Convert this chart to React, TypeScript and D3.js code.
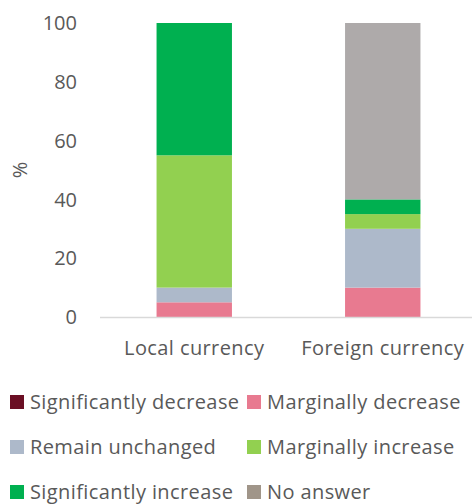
import React, { useEffect, useRef } from "react";
import * as d3 from "d3";

const categories = ["Local currency", "Foreign currency"];
const seriesNames = [
  "Significantly decrease",
  "Marginally decrease",
  "Remain unchanged",
  "Marginally increase",
  "Significantly increase",
  "No answer",
];
const significantlyDecrease = [0, 0];
const marginallyDecrease = [5, 10];
const remainUnchanged = [5, 20];
const marginallyIncrease = [45, 5];
const significantlyIncrease = [45, 5];
const noAnswer = [0, 60];
const yTicks = [0, 20, 40, 60, 80, 100];

const barColors = ["#6B0F24", "#E87A90", "#ADB9CA", "#92D050", "#00B050", "#AEAAAA"];
const legendColors = ["#6B0F24", "#E87A90", "#ADB9CA", "#92D050", "#00B050", "#A09589"];

const FONT = "'Open Sans', 'Noto Sans', sans-serif";
const TEXT = "#595959";

export default function App() {
  const ref = useRef<SVGSVGElement>(null);

  useEffect(() => {
    if (!ref.current) return;
    const width = 472;
    const height = 504;
    const svg = d3.select(ref.current).attr("width", width).attr("height", height);
    svg.selectAll("*").remove();

    const values = [
      significantlyDecrease,
      marginallyDecrease,
      remainUnchanged,
      marginallyIncrease,
      significantlyIncrease,
      noAnswer,
    ];
    const rows = categories.map((c, i) => {
      const r: any = { category: c };
      seriesNames.forEach((s, j) => (r[s] = values[j][i]));
      return r;
    });

    // plot area runs a little past the right edge of the picture
    const margin = { left: 100, right: -5, top: 23, bottom: 187 };
    const x = d3
      .scaleBand()
      .domain(categories)
      .range([margin.left, width - margin.right])
      .paddingInner(0.6)
      .paddingOuter(0.3);
    const y = d3.scaleLinear().domain([0, 100]).range([height - margin.bottom, margin.top]);

    const stack = d3.stack<any>().keys(seriesNames)(rows);

    svg
      .append("g")
      .selectAll("g")
      .data(stack)
      .join("g")
      .attr("fill", (_, i) => barColors[i])
      .selectAll("rect")
      .data((d) => d)
      .join("rect")
      .attr("x", (d) => x(d.data.category)!)
      .attr("width", x.bandwidth())
      .attr("y", (d) => y(d[1]))
      .attr("height", (d) => y(d[0]) - y(d[1]));

    // axis baseline
    svg
      .append("line")
      .attr("x1", margin.left)
      .attr("x2", width)
      .attr("y1", y(0) + 0.5)
      .attr("y2", y(0) + 0.5)
      .attr("stroke", "#D9D9D9")
      .attr("stroke-width", 1.5);

    // y tick labels
    svg
      .append("g")
      .selectAll("text")
      .data(yTicks)
      .join("text")
      .attr("x", 77)
      .attr("y", (d) => y(d))
      .attr("dy", "0.36em")
      .attr("text-anchor", "end")
      .attr("font-family", FONT)
      .attr("font-size", 20)
      .attr("fill", TEXT)
      .text((d) => d);

    svg
      .append("text")
      .attr("transform", `translate(27,${y(50)}) rotate(-90)`)
      .attr("text-anchor", "middle")
      .attr("font-family", FONT)
      .attr("font-size", 20)
      .attr("fill", TEXT)
      .text("%");

    // category labels
    svg
      .append("g")
      .selectAll("text")
      .data(categories)
      .join("text")
      .attr("x", (d) => x(d)! + x.bandwidth() / 2)
      .attr("y", 355)
      .attr("text-anchor", "middle")
      .attr("font-family", FONT)
      .attr("font-size", 20)
      .attr("letter-spacing", 0.4)
      .attr("fill", TEXT)
      .text((d) => d);

    // legend
    const legend = svg
      .append("g")
      .selectAll("g")
      .data(seriesNames)
      .join("g")
      .attr("transform", (_, i) => `translate(${i % 2 === 0 ? 10 : 247},${395 + Math.floor(i / 2) * 45})`);
    legend
      .append("rect")
      .attr("width", 14)
      .attr("height", 14)
      .attr("fill", (_, i) => legendColors[i]);
    legend
      .append("text")
      .attr("x", 20)
      .attr("y", 14)
      .attr("font-family", FONT)
      .attr("font-size", 20)
      .attr("letter-spacing", 0.4)
      .attr("fill", TEXT)
      .text((d) => d);
  }, []);

  return <svg ref={ref} style={{ position: "absolute", left: 0, top: 0 }} />;
}
